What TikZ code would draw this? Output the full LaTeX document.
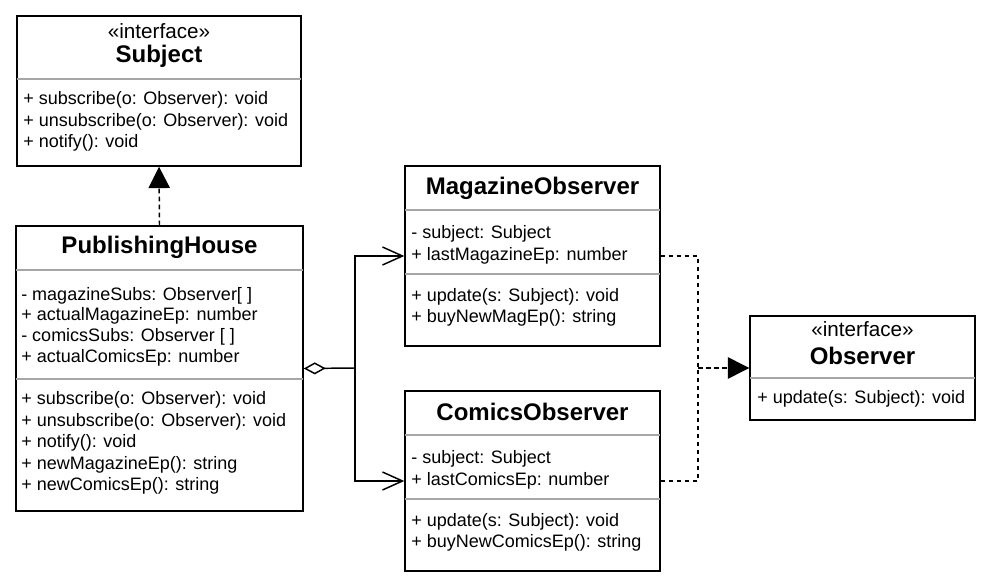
\documentclass[tikz,border=0pt]{standalone}
\usepackage{fontspec}
\setmainfont{Liberation Sans}
\usetikzlibrary{arrows.meta,fit}

\begin{document}
\begin{tikzpicture}[x=0.75pt,y=-0.75pt]
       \tikzset{classbox/.style={rectangle, draw, line width=1.1pt, inner sep=0pt}}
       \tikzset{title/.style={font=\fontsize{18}{21}\selectfont\bfseries, inner sep=0pt}}
       \tikzset{stereo/.style={font=\fontsize{15.5}{18}\selectfont, inner sep=0pt}}
       \tikzset{member/.style={font=\fontsize{13.5}{16}\selectfont, inner sep=0pt, anchor=west}}
       \tikzset{divider/.style={draw=black!35, line width=1.1pt, shorten <=0.6pt, shorten >=0.6pt}}
       \tikzset{dashline/.style={line width=1.1pt, dash pattern=on 3.4pt off 2.6pt}}
       \tikzset{realize/.style={dashline, -{Triangle[length=16pt,width=16pt]}}}
       \tikzset{assoc/.style={line width=1.1pt, -{Straight Barb[length=15pt,width=13.5pt]}}}
       \tikzset{aggregate/.style={line width=1.1pt, {Diamond[open,length=16.5pt,width=9pt]}-}}

        \useasboundingbox (0,0) rectangle (992,588);

        % boxes
        \node[classbox, fit={(17,16) (301,166)}] (subject) {};
        \node[classbox, fit={(16,226) (303,511)}] (house) {};
        \node[classbox, fit={(405,166) (660,346)}] (magazine) {};
        \node[classbox, fit={(405,391) (660,571)}] (comics) {};
        \node[classbox, fit={(750,316) (975,420)}] (observer) {};

        % Subject
        \node[stereo] (subject-stereo) at (159,31) {«interface»};
        \node[title] (subject-title) at (159,56) {Subject};
        \draw[divider] (subject.west |- 0,79) -- (subject.east |- 0,79);
        \foreach \txt [count=\i] in {{+ subscribe(o: Observer): void},
            {+ unsubscribe(o: Observer): void}, {+ notify(): void}}
            \node[member] (subject-m\i) at (23,79+21.3*\i) {\txt};

        % PublishingHouse
        \node[title] (house-title) at (159.5,247) {PublishingHouse};
        \draw[divider] (house.west |- 0,270) -- (house.east |- 0,270);
        \foreach \txt [count=\i] in {{- magazineSubs: Observer[ ]},
            {+ actualMagazineEp: number}, {- comicsSubs: Observer [ ]},
            {+ actualComicsEp: number}}
            \node[member] (house-a\i) at (21,275+20.6*\i) {\txt};
        \draw[divider] (house.west |- 0,379) -- (house.east |- 0,379);
        \foreach \txt [count=\i] in {{+ subscribe(o: Observer): void},
            {+ unsubscribe(o: Observer): void}, {+ notify(): void},
            {+ newMagazineEp(): string}, {+ newComicsEp(): string}}
            \node[member] (house-m\i) at (21,378.5+21.5*\i) {\txt};

        % MagazineObserver
        \node[title] (magazine-title) at (532.5,188) {MagazineObserver};
        \draw[divider] (magazine.west |- 0,210) -- (magazine.east |- 0,210);
        \foreach \txt [count=\i] in {{- subject: Subject}, {+ lastMagazineEp: number}}
            \node[member] (magazine-a\i) at (411,213+21.3*\i) {\txt};
        \draw[divider] (magazine.west |- 0,274) -- (magazine.east |- 0,274);
        \foreach \txt [count=\i] in {{+ update(s: Subject): void}, {+ buyNewMagEp(): string}}
            \node[member] (magazine-m\i) at (411,275.5+21.3*\i) {\txt};

        % ComicsObserver
        \node[title] (comics-title) at (532.5,412) {ComicsObserver};
        \draw[divider] (comics.west |- 0,435) -- (comics.east |- 0,435);
        \foreach \txt [count=\i] in {{- subject: Subject}, {+ lastComicsEp: number}}
            \node[member] (comics-a\i) at (411,438+21.3*\i) {\txt};
        \draw[divider] (comics.west |- 0,499) -- (comics.east |- 0,499);
        \foreach \txt [count=\i] in {{+ update(s: Subject): void}, {+ buyNewComicsEp(): string}}
            \node[member] (comics-m\i) at (411,500.5+21.3*\i) {\txt};

        % Observer
        \node[stereo] (observer-stereo) at (862.5,329) {«interface»};
        \node[title] (observer-title) at (862.5,356) {Observer};
        \draw[divider] (observer.west |- 0,378) -- (observer.east |- 0,378);
        \node[member] (observer-m1) at (757,399) {+ update(s: Subject): void};

        % connectors
        \coordinate (fork) at (355,368);
        \coordinate (join) at (698,368);

        \draw[realize](house.north) -- (subject.south);
        \draw[aggregate](house.east) -- (fork);
        \draw[assoc](fork) |- (magazine.west);
        \draw[assoc](fork) |- (comics.west);
        \draw[dashline](magazine.east) -| (join);
        \draw[dashline](comics.east) -| (join);
        \draw[realize](join) -- (observer.west);

\end{tikzpicture}
\end{document}
